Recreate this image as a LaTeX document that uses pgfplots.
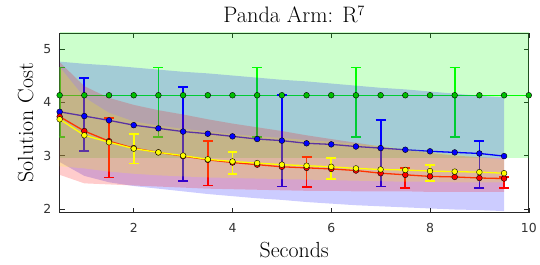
\documentclass[border=0pt]{standalone}
\usepackage{pgfplots}
\pgfplotsset{compat=1.18}
\usepackage{fontspec}
\newfontfamily\tickfont{DejaVu Sans}
\definecolor{mg}{rgb}{0,1,0}
\definecolor{mgd}{rgb}{0,0.75,0}
\definecolor{mb}{rgb}{0,0,1}
\definecolor{mr}{rgb}{1,0,0}
\definecolor{my}{rgb}{1,1,0}
\definecolor{axc}{rgb}{0.15,0.15,0.15}
\begin{document}
\begin{tikzpicture}
\begin{axis}[
  width=472pt, height=181pt, scale only axis,
  xmin=0.5, xmax=10, ymin=1.93, ymax=5.3,
  xtick={2,4,6,8,10}, ytick={2,3,4,5},
  tick align=inside, major tick length=5pt,
  axis line style={axc, line width=0.6pt},
  tick style={axc, line width=0.5pt},
  /pgf/number format/assume math mode=true,
  tick label style={font=\tickfont\fontsize{12.5}{14}\selectfont, text=black!80},
  xticklabel style={yshift=-7pt},
  yticklabel style={xshift=-5pt},
  title={Panda Arm: R$^7$},
  title style={font=\fontsize{22.5}{24}\selectfont, yshift=0pt},
  xlabel={Seconds}, ylabel={Solution Cost},
  label style={font=\fontsize{22}{24}\selectfont},
  xlabel style={yshift=-3pt},
  ylabel style={yshift=3pt},
  clip=true,
  ebar/.style={forget plot, draw=none, mark=none,
    error bars/.cd, y dir=both, y explicit,
    error bar style={line width=1.8pt, draw=#1},
    error mark options={rotate=90, mark size=5pt, line width=1.8pt, draw=#1}},
]
% ---------- green ----------
\addplot[draw=none, fill=mg, fill opacity=0.2, forget plot] coordinates {
(0.5,2.95) (10,2.95) (10,5.6) (0.5,5.6)} -- cycle;
\addplot[mg, line width=1.3pt, mark=*, mark size=2.9pt, mark options={solid, fill=mgd, draw=black, line width=0.4pt}] coordinates {
(0.5,4.13)(1,4.13)(1.5,4.13)(2,4.13)(2.5,4.13)(3,4.13)(3.5,4.13)(4,4.13)(4.5,4.13)(5,4.13)
(5.5,4.13)(6,4.13)(6.5,4.13)(7,4.13)(7.5,4.13)(8,4.13)(8.5,4.13)(9,4.13)(9.5,4.13)(10,4.13)};
\addplot[ebar=mg] coordinates {
(0.5,4.13) += (0,0.52) -= (0,0.78)
(2.5,4.13) += (0,0.52) -= (0,0.78)
(4.5,4.13) += (0,0.52) -= (0,0.78)
(6.5,4.13) += (0,0.52) -= (0,0.78)
(8.5,4.13) += (0,0.52) -= (0,0.78)};
% ---------- blue ----------
\addplot[draw=none, fill=mb, fill opacity=0.2, forget plot] coordinates {
(0.5,4.76)(1,4.72)(1.5,4.69)(2,4.65)(2.5,4.61)(3,4.57)(3.5,4.54)(4,4.50)(4.5,4.46)(5,4.42)
(5.5,4.39)(6,4.35)(6.5,4.31)(7,4.27)(7.5,4.24)(8,4.20)(8.5,4.16)(9,4.12)(9.5,4.09)
(9.5,1.96)(9,1.98)(8.5,1.99)(8,2.01)(7.5,2.03)(7,2.05)(6.5,2.07)(6,2.10)(5.5,2.13)(5,2.17)
(4.5,2.20)(4,2.24)(3.5,2.28)(3,2.33)(2.5,2.38)(2,2.43)(1.5,2.50)(1,2.62)(0.5,2.88)} -- cycle;
\addplot[mb, line width=1.3pt, mark=*, mark size=2.9pt, mark options={solid, fill=mb, draw=black, line width=0.4pt}] coordinates {
(0.5,3.82)(1,3.74)(1.5,3.66)(2,3.57)(2.5,3.51)(3,3.45)(3.5,3.41)(4,3.36)(4.5,3.31)(5,3.28)
(5.5,3.23)(6,3.21)(6.5,3.17)(7,3.14)(7.5,3.11)(8,3.08)(8.5,3.06)(9,3.04)(9.5,2.99)};
\addplot[ebar=mb] coordinates {
(1,3.74) += (0,0.71) -= (0,0.65)
(3,3.45) += (0,0.84) -= (0,0.93)
(5,3.28) += (0,0.86) -= (0,0.86)
(7,3.14) += (0,0.52) -= (0,0.72)
(9,3.04) += (0,0.23) -= (0,0.65)};
% ---------- red ----------
\addplot[draw=none, fill=mr, fill opacity=0.2, forget plot] coordinates {
(0.5,4.75)(1,4.30)(1.5,4.08)(2,3.95)(2.5,3.85)(3,3.77)(3.5,3.68)(4,3.60)(4.5,3.53)(5,3.46)
(5.5,3.38)(6,3.31)(6.5,3.24)(7,3.17)(7.5,3.10)(8,3.05)(8.5,3.00)(9,2.97)(9.5,2.95)
(9.5,2.32)(9,2.32)(8.5,2.32)(8,2.32)(7.5,2.33)(7,2.33)(6.5,2.33)(6,2.34)(5.5,2.34)(5,2.35)
(4.5,2.36)(4,2.37)(3.5,2.38)(3,2.40)(2.5,2.42)(2,2.44)(1.5,2.46)(1,2.48)(0.5,2.64)} -- cycle;
\addplot[mr, line width=1.3pt, mark=*, mark size=2.9pt, mark options={solid, fill=mr, draw=black, line width=0.4pt}] coordinates {
(0.5,3.73)(1,3.46)(1.5,3.27)(2,3.14)(2.5,3.06)(3,2.99)(3.5,2.92)(4,2.87)(4.5,2.83)(5,2.79)
(5.5,2.77)(6,2.75)(6.5,2.72)(7,2.67)(7.5,2.64)(8,2.61)(8.5,2.60)(9,2.58)(9.5,2.57)};
\addplot[ebar=mr] coordinates {
(1.5,3.27) += (0,0.44) -= (0,0.68)
(3.5,2.92) += (0,0.35) -= (0,0.48)
(5.5,2.77) += (0,0.20) -= (0,0.36)
(7.5,2.64) += (0,0.13) -= (0,0.25)
(9.5,2.57) += (0,0.03) -= (0,0.18)};
% ---------- yellow ----------
\addplot[draw=none, fill=my, fill opacity=0.2, forget plot] coordinates {
(0.5,4.66)(1,4.09)(1.5,3.80)(2,3.64)(2.5,3.56)(3,3.50)(3.5,3.45)(4,3.40)(4.5,3.36)(5,3.33)
(5.5,3.29)(6,3.26)(6.5,3.22)(7,3.18)(7.5,3.13)(8,3.07)(8.5,3.02)(9,2.97)(9.5,2.92)
(9.5,2.50)(9,2.50)(8.5,2.50)(8,2.51)(7.5,2.51)(7,2.52)(6.5,2.53)(6,2.54)(5.5,2.55)(5,2.56)
(4.5,2.57)(4,2.58)(3.5,2.59)(3,2.61)(2.5,2.63)(2,2.66)(1.5,2.70)(1,2.76)(0.5,2.80)} -- cycle;
\addplot[my, line width=1.3pt, mark=*, mark size=2.9pt, mark options={solid, fill=my, draw=black, line width=0.4pt}] coordinates {
(0.5,3.68)(1,3.38)(1.5,3.25)(2,3.13)(2.5,3.06)(3,3.00)(3.5,2.93)(4,2.89)(4.5,2.86)(5,2.83)
(5.5,2.81)(6,2.79)(6.5,2.76)(7,2.74)(7.5,2.73)(8,2.71)(8.5,2.70)(9,2.69)(9.5,2.67)};
\addplot[ebar=my] coordinates {
(2,3.13) += (0,0.27) -= (0,0.28)
(4,2.89) += (0,0.18) -= (0,0.24)
(6,2.79) += (0,0.16) -= (0,0.23)
(8,2.71) += (0,0.12) -= (0,0.18)};
\end{axis}
\path (current axis.south west) ++(-60pt,-52pt);
\path (current axis.north east) ++(8pt,33pt);
\end{tikzpicture}
\end{document}
